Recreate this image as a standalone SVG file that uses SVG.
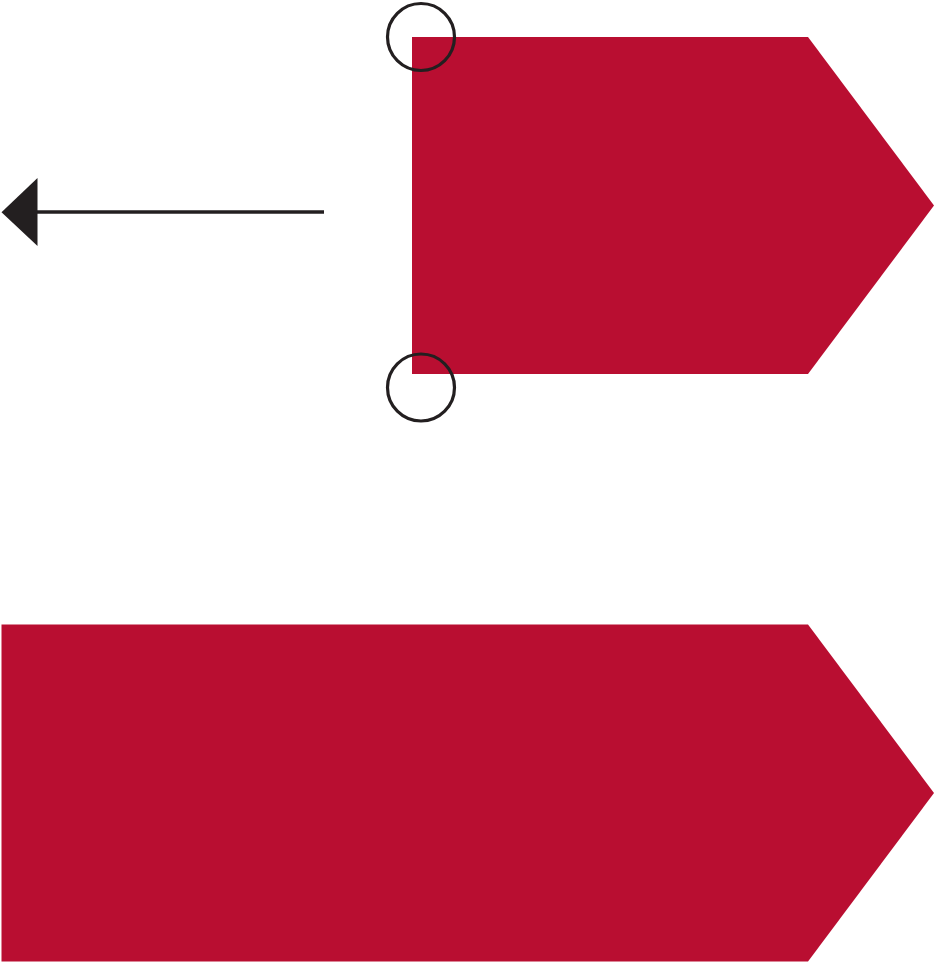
<svg xmlns="http://www.w3.org/2000/svg" width="935" height="963" viewBox="0 0 935 963">
  <style>
    .shape { fill: #B90E31; stroke: none; }
    .ring { fill: none; stroke: #231F20; stroke-width: 3.2; }
    .conn { stroke: #231F20; stroke-width: 3.6; fill: none; }
    .head { fill: #231F20; }
  </style>
  <rect width="935" height="963" fill="#FFFFFF"/>
  <g id="node-top">
    <polygon class="shape" points="412,37 808,37 934,205.5 808,374 412,374"/>
  </g>
  <g id="node-bottom">
    <polygon class="shape" points="1.5,624.5 808,624.5 934,793 808,961.5 1.5,961.5"/>
  </g>
  <g id="markers">
    <circle class="ring" cx="421" cy="37" r="33.5"/>
    <circle class="ring" cx="421" cy="387.5" r="33.5"/>
  </g>
  <g id="connectors">
    <line class="conn" x1="324" y1="212" x2="36" y2="212"/>
    <polygon class="head" points="1.5,212.3 37.5,178 37.5,246"/>
  </g>
</svg>
